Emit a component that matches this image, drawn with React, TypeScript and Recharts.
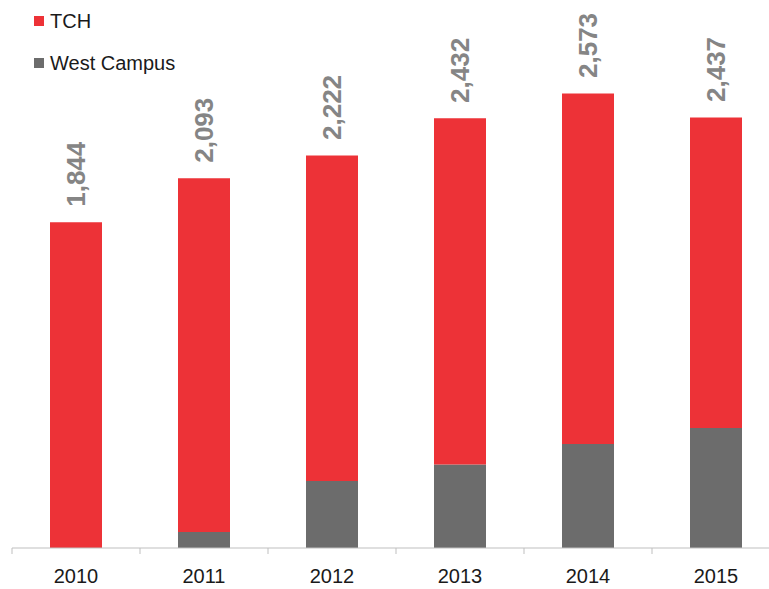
import { BarChart, Bar, XAxis, YAxis, LabelList, Legend } from "recharts";

const YEARS = ["2010", "2011", "2012", "2013", "2014", "2015"];
const WEST_CAMPUS = [0, 90, 379, 473, 588, 679];
const TCH = [1844, 2003, 1843, 1959, 1985, 1758];
const TOTALS = [1844, 2093, 2222, 2432, 2573, 2437];

const COLORS = {
  tch: "#ED3237",
  west: "#6C6C6C",
  label: "#858585",
  axis: "#BFBFBF",
} as const;

const FONT = "'Liberation Sans', Arial, sans-serif";

const CHART_W = 790;
const CHART_H = 589;
const MARGIN = { top: 18, right: 10, left: 12, bottom: 0 };
const BAND = (CHART_W - MARGIN.left - MARGIN.right) / YEARS.length;

const data = YEARS.map((year, i) => ({
  year,
  west: WEST_CAMPUS[i],
  tch: TCH[i],
  total: TOTALS[i],
}));

const LEGEND_ITEMS = [
  { name: "TCH", color: COLORS.tch },
  { name: "West Campus", color: COLORS.west },
];

function YearTick(props: any) {
  const { x, y, payload } = props;
  return (
    <g>
      <line x1={x - BAND / 2} x2={x - BAND / 2} y1={y} y2={y + 6} stroke={COLORS.axis} />
      <text x={x} y={y + 35} textAnchor="middle" fontSize={20} fill="#1a1a1a" fontFamily={FONT}>
        {payload.value}
      </text>
    </g>
  );
}

function TotalLabel(props: any) {
  const { x, y, width, value } = props;
  const px = Number(x) + Number(width) / 2 + 9;
  const py = Number(y) - 48;
  return (
    <text
      x={px}
      y={py}
      transform={`rotate(-90, ${px}, ${py})`}
      textAnchor="middle"
      fontSize={26}
      fontWeight="bold"
      fill={COLORS.label}
      fontFamily={FONT}
    >
      {Number(value).toLocaleString("en-US")}
    </text>
  );
}

function LegendBox() {
  return (
    <div style={{ fontFamily: FONT, fontSize: 20, color: "#1a1a1a" }}>
      {LEGEND_ITEMS.map((item) => (
        <div key={item.name} style={{ display: "flex", alignItems: "center", height: 42 }}>
          <span
            style={{ display: "inline-block", width: 10, height: 10, background: item.color, marginRight: 6 }}
          />
          <span>{item.name}</span>
        </div>
      ))}
    </div>
  );
}

export default function App() {
  return (
    <div
      style={{
        position: "absolute",
        left: 0,
        top: 0,
        width: 769,
        height: 589,
        overflow: "hidden",
        background: "#fff",
      }}
    >
      <BarChart width={CHART_W} height={CHART_H} data={data} margin={MARGIN}>
        <XAxis
          dataKey="year"
          height={41}
          tickSize={0}
          tickMargin={0}
          tick={<YearTick />}
          axisLine={{ stroke: COLORS.axis }}
          interval={0}
        />
        <YAxis hide domain={[0, 3000]} />
        <Legend
          layout="horizontal"
          verticalAlign="middle"
          align="center"
          content={() => <LegendBox />}
          wrapperStyle={{ top: 0, left: 34, width: "auto" }}
        />
        <Bar dataKey="west" name="West Campus" stackId="a" fill={COLORS.west} barSize={52} isAnimationActive={false} />
        <Bar dataKey="tch" name="TCH" stackId="a" fill={COLORS.tch} barSize={52} isAnimationActive={false}>
          <LabelList dataKey="total" content={<TotalLabel />} />
        </Bar>
      </BarChart>
    </div>
  );
}
